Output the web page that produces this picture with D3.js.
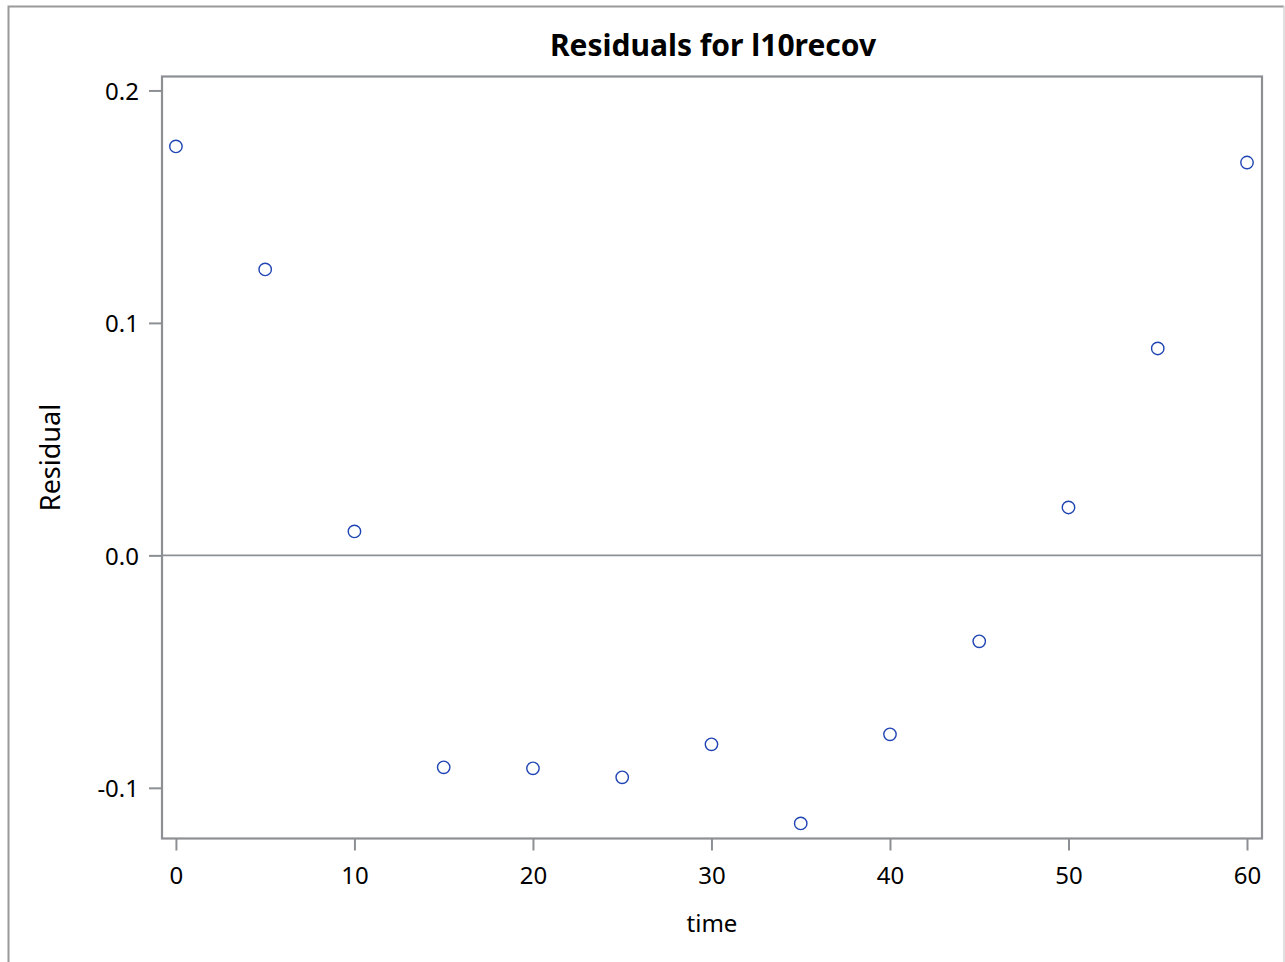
<!DOCTYPE html>
<html>
<head>
<meta charset="utf-8">
<script src="https://cdn.jsdelivr.net/npm/d3@7/dist/d3.min.js"></script>
<style>
  html, body { margin: 0; padding: 0; background: #fff; }
  svg { display: block; }
  text { font-family: "Noto Sans", "Open Sans", sans-serif; fill: #000; }
</style>
</head>
<body>
<svg id="chart" width="1285" height="962"></svg>
<script>
// Residuals from the l10recov fit, one per sampling time
const times = [0, 5, 10, 15, 20, 25, 30, 35, 40, 45, 50, 55, 60];
const residuals = [0.1759, 0.1230, 0.0103, -0.0912, -0.0916, -0.0955, -0.0813, -0.1153, -0.0770, -0.0370, 0.0206, 0.0890, 0.1690];
const xTicks = [0, 10, 20, 30, 40, 50, 60];
const yTicks = [-0.1, 0.0, 0.1, 0.2];
const xDomain = [-0.78, 60.84];
const yDomain = [-0.1218, 0.2060];

const svg = d3.select("#chart");
const W = 1285, H = 962;
const plot = { left: 162, right: 1262, top: 76.5, bottom: 838.5 };
const frameColor = "#8c8f93";

// Outer graph border
svg.append("path")
  .attr("d", `M8.5,${H + 2} V6.5 H1284`)
  .attr("fill", "none").attr("stroke", "#9a9a9a").attr("stroke-width", 2);
svg.append("line")
  .attr("x1", 1284).attr("x2", 1284).attr("y1", 6).attr("y2", H)
  .attr("stroke", "#d6d6d6").attr("stroke-width", 1.5);

const x = d3.scaleLinear().domain(xDomain).range([plot.left, plot.right]);
const y = d3.scaleLinear().domain(yDomain).range([plot.bottom, plot.top]);

// Zero reference line
svg.append("line")
  .attr("x1", plot.left).attr("x2", plot.right)
  .attr("y1", y(0)).attr("y2", y(0))
  .attr("stroke", frameColor).attr("stroke-width", 1.6);

// Axes (plain hyphen for negative labels)
const fmtY = d => d3.format(".1f")(d).replace("\u2212", "-");
const xAxis = d3.axisBottom(x).tickValues(xTicks).tickFormat(d3.format("d"))
  .tickSizeInner(12).tickSizeOuter(0).tickPadding(16);
const yAxis = d3.axisLeft(y).tickValues(yTicks).tickFormat(fmtY)
  .tickSizeInner(13).tickSizeOuter(0).tickPadding(10);

const gx = svg.append("g").attr("transform", `translate(0,${plot.bottom})`).call(xAxis);
const gy = svg.append("g").attr("transform", `translate(${plot.left},0)`).call(yAxis);
[gx, gy].forEach(g => {
  g.select(".domain").remove();
  g.selectAll(".tick line").attr("stroke", frameColor).attr("stroke-width", 2);
  g.selectAll(".tick text")
    .attr("font-family", "'Noto Sans', sans-serif")
    .attr("font-size", 24).attr("fill", "#000");
});
gy.selectAll(".tick text").attr("dy", "0.36em");

// Plot frame
svg.append("rect")
  .attr("x", plot.left).attr("y", plot.top)
  .attr("width", plot.right - plot.left).attr("height", plot.bottom - plot.top)
  .attr("fill", "none").attr("stroke", frameColor).attr("stroke-width", 2.2);

// Residual markers
svg.append("g").selectAll("circle")
  .data(times.map((t, i) => ({ t, r: residuals[i] })))
  .join("circle")
  .attr("cx", d => x(d.t)).attr("cy", d => y(d.r))
  .attr("r", 6.2)
  .attr("fill", "none").attr("stroke", "#1f44b3").attr("stroke-width", 1.4);

// Title and axis labels
svg.append("text")
  .attr("x", (plot.left + plot.right) / 2 + 1).attr("y", 56)
  .attr("text-anchor", "middle")
  .attr("font-size", 30).attr("font-weight", "bold")
  .text("Residuals for l10recov");

svg.append("text")
  .attr("x", (plot.left + plot.right) / 2).attr("y", 932)
  .attr("text-anchor", "middle")
  .attr("font-size", 24)
  .text("time");

svg.append("text")
  .attr("transform", `translate(60,${(plot.top + plot.bottom) / 2}) rotate(-90)`)
  .attr("text-anchor", "middle")
  .attr("font-size", 27)
  .text("Residual");
</script>
</body>
</html>
